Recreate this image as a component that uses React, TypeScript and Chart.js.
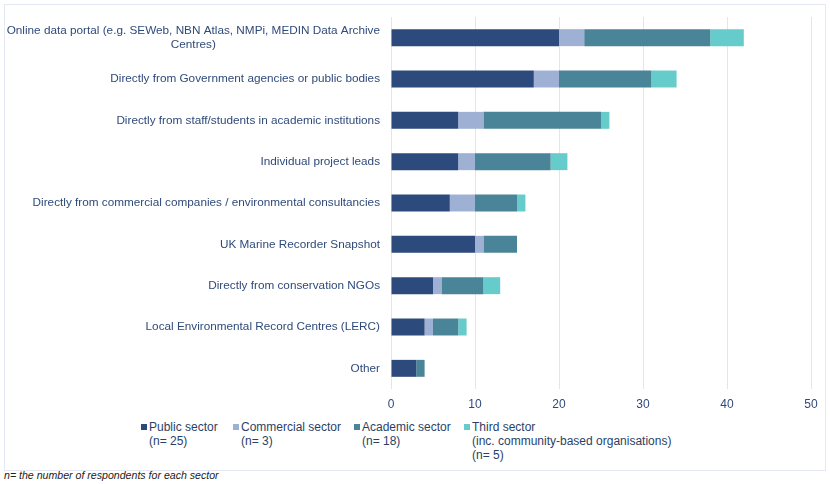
import React, { useEffect, useRef } from "react";
import { Chart, registerables } from "chart.js";

Chart.register(...registerables);

const categories: string[][] = [
  ["Online data portal (e.g. SEWeb, NBN Atlas, NMPi, MEDIN Data Archive", "Centres)"],
  ["Directly from Government agencies or public bodies"],
  ["Directly from staff/students in academic institutions"],
  ["Individual project leads"],
  ["Directly from commercial companies / environmental consultancies"],
  ["UK Marine Recorder Snapshot"],
  ["Directly from conservation NGOs"],
  ["Local Environmental Record Centres (LERC)"],
  ["Other"],
];

const publicSector = [20, 17, 8, 8, 7, 10, 5, 4, 3];
const commercialSector = [3, 3, 3, 2, 3, 1, 1, 1, 0];
const academicSector = [15, 11, 14, 9, 5, 4, 5, 3, 1];
const thirdSector = [4, 3, 1, 2, 1, 0, 2, 1, 0];

const seriesNames: string[][] = [
  ["Public sector", "(n= 25)"],
  ["Commercial sector", "(n= 3)"],
  ["Academic sector", "(n= 18)"],
  ["Third sector", "(inc. community-based organisations)", "(n= 5)"],
];
const seriesColors = ["#2C4A7C", "#9EB1D5", "#4A8498", "#66CBCB"];
const xTicks = [0, 10, 20, 30, 40, 50];

const FONT = "'Liberation Sans', Arial, sans-serif";
const LABEL_COLOR = "#2F4A7A";

const yLabelPlugin = {
  id: "yLabels",
  afterDraw(chart: any) {
    const ctx = chart.ctx;
    const y = chart.scales.y;
    const right = chart.chartArea.left - 11;
    ctx.save();
    ctx.font = `11.75px ${FONT}`;
    ctx.fillStyle = LABEL_COLOR;
    ctx.textBaseline = "middle";
    ctx.textAlign = "center";
    const lh = 14;
    categories.forEach((lines, i) => {
      const cy = y.getPixelForValue(i);
      const maxW = Math.max(...lines.map((l) => ctx.measureText(l).width));
      const cx = right - maxW / 2;
      const startY = cy - ((lines.length - 1) * lh) / 2;
      lines.forEach((l, j) => ctx.fillText(l, cx, startY + j * lh));
    });
    ctx.restore();
  },
};

export default function App() {
  const ref = useRef<HTMLCanvasElement>(null);
  useEffect(() => {
    if (!ref.current) return;
    const data = [publicSector, commercialSector, academicSector, thirdSector];
    const chart = new Chart(ref.current, {
      type: "bar",
      data: {
        labels: categories.map((c) => c.join(" ")),
        datasets: data.map((d, i) => ({
          label: seriesNames[i].join(" "),
          data: d,
          backgroundColor: seriesColors[i],
          borderWidth: 0,
          categoryPercentage: 1,
          barPercentage: 0.41,
        })),
      },
      plugins: [yLabelPlugin],
      options: {
        indexAxis: "y",
        responsive: false,
        animation: false,
        layout: { padding: { top: 17, right: 19, left: 0, bottom: 0 } },
        plugins: { legend: { display: false }, tooltip: { enabled: false } },
        scales: {
          x: {
            stacked: true,
            min: 0,
            max: 50,
            afterBuildTicks: (s: any) => {
              s.ticks = xTicks.map((v) => ({ value: v }));
            },
            afterFit: (s: any) => {
              s.height = 31;
            },
            grid: { color: "#DFE6F1", drawTicks: false, lineWidth: 1 },
            border: { display: false },
            ticks: { color: LABEL_COLOR, font: { family: FONT, size: 12 }, padding: 8 },
          },
          y: {
            stacked: true,
            afterFit: (s: any) => {
              s.width = 391;
            },
            grid: { display: false },
            border: { display: false },
            ticks: { display: false },
          },
        },
      },
    });
    return () => chart.destroy();
  }, []);

  const legendX = [141, 233, 354, 464];

  return (
    <div style={{ position: "fixed", left: 0, top: 0, width: 830, height: 484, background: "#fff", fontFamily: FONT }}>
      <div style={{ position: "absolute", left: 4, top: 4, width: 822, height: 467, border: "1px solid #E3E8F3", boxSizing: "border-box" }} />
      <canvas ref={ref} width={830} height={420} style={{ position: "absolute", left: 0, top: 0 }} />
      {seriesNames.map((lines, i) => (
        <div key={i} style={{ position: "absolute", left: legendX[i], top: 420, fontSize: 12, color: "#2B3F66", lineHeight: "14px" }}>
          <span style={{ position: "absolute", left: 0, top: 4, width: 6, height: 6, background: seriesColors[i] }} />
          <div style={{ marginLeft: 8, whiteSpace: "nowrap" }}>
            {lines.map((l, j) => (
              <div key={j}>{l}</div>
            ))}
          </div>
        </div>
      ))}
      <div style={{ position: "absolute", left: 4, top: 469, fontSize: 10.6, fontStyle: "italic", color: "#222", whiteSpace: "nowrap" }}>
        n= the number of respondents for each sector
      </div>
    </div>
  );
}
